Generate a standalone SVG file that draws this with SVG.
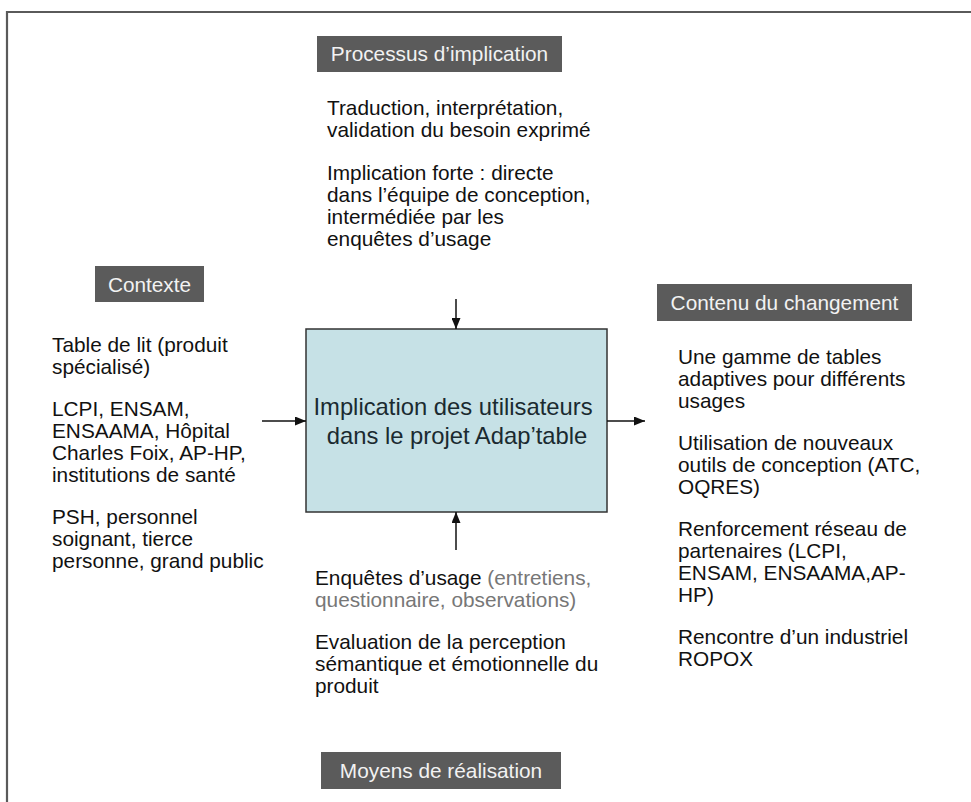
<svg xmlns="http://www.w3.org/2000/svg" width="971" height="802" viewBox="0 0 971 802">
<style>
.hdr{fill:#5b5b5b}
.ht{font-family:"Liberation Sans",Arial,sans-serif;font-size:20.8px;fill:#f2f2f2;text-anchor:middle}
.bt{font-family:"Liberation Sans",Arial,sans-serif;font-size:20.8px;fill:#111}
.gr{fill:#777}
.mt{font-family:"Liberation Sans",Arial,sans-serif;font-size:23.8px;fill:#1a2a30;text-anchor:middle}
.cn{stroke:#111;stroke-width:1.5;fill:none}
</style>
<defs>
<marker id="ah" viewBox="0 0 10 10" refX="10" refY="5" markerWidth="11" markerHeight="9" orient="auto" markerUnits="userSpaceOnUse" preserveAspectRatio="none">
<path d="M0,0 L10,5 L0,10 z" fill="#111"/>
</marker>
</defs>
<rect width="971" height="802" fill="#fff"/>
<path d="M7,802 V12 H971" fill="none" stroke="#5a5a5a" stroke-width="2.2"/>

<g id="main">
<rect x="306" y="329" width="301" height="183" fill="#c6e1e6" stroke="#333" stroke-width="1.5"/>
<text class="mt" x="453" y="415">Implication des utilisateurs</text>
<text class="mt" x="457" y="444">dans le projet Adap’table</text>
</g>

<g id="processus">
<rect class="hdr" x="317" y="36" width="245" height="36"/>
<text class="ht" x="439.5" y="61">Processus d’implication</text>
<text class="bt" x="327" y="115">Traduction, interprétation,</text>
<text class="bt" x="327" y="137">validation du besoin exprimé</text>
<text class="bt" x="327" y="180">Implication forte : directe</text>
<text class="bt" x="327" y="202">dans l’équipe de conception,</text>
<text class="bt" x="327" y="224">intermédiée par les</text>
<text class="bt" x="327" y="246">enquêtes d’usage</text>
</g>

<g id="contexte">
<rect class="hdr" x="95" y="266" width="109" height="36"/>
<text class="ht" x="149.5" y="292">Contexte</text>
<text class="bt" x="52" y="352">Table de lit (produit</text>
<text class="bt" x="52" y="374">spécialisé)</text>
<text class="bt" x="52" y="416">LCPI, ENSAM,</text>
<text class="bt" x="52" y="438">ENSAAMA, Hôpital</text>
<text class="bt" x="52" y="460">Charles Foix, AP-HP,</text>
<text class="bt" x="52" y="482">institutions de santé</text>
<text class="bt" x="52" y="524">PSH, personnel</text>
<text class="bt" x="52" y="546">soignant, tierce</text>
<text class="bt" x="52" y="568">personne, grand public</text>
</g>

<g id="contenu">
<rect class="hdr" x="657" y="284" width="255" height="37"/>
<text class="ht" x="784.5" y="310">Contenu du changement</text>
<text class="bt" x="678" y="364">Une gamme de tables</text>
<text class="bt" x="678" y="386">adaptives pour différents</text>
<text class="bt" x="678" y="408">usages</text>
<text class="bt" x="678" y="450">Utilisation de nouveaux</text>
<text class="bt" x="678" y="472">outils de conception (ATC,</text>
<text class="bt" x="678" y="494">OQRES)</text>
<text class="bt" x="678" y="536">Renforcement réseau de</text>
<text class="bt" x="678" y="558">partenaires (LCPI,</text>
<text class="bt" x="678" y="580">ENSAM, ENSAAMA,AP-</text>
<text class="bt" x="678" y="602">HP)</text>
<text class="bt" x="678" y="644">Rencontre d’un industriel</text>
<text class="bt" x="678" y="666">ROPOX</text>
</g>

<g id="moyens">
<rect class="hdr" x="321" y="752" width="240" height="37"/>
<text class="ht" x="441" y="778">Moyens de réalisation</text>
<text class="bt" x="315" y="585">Enquêtes d’usage <tspan class="gr">(entretiens,</tspan></text>
<text class="bt gr" x="315" y="607">questionnaire, observations)</text>
<text class="bt" x="315" y="649">Evaluation de la perception</text>
<text class="bt" x="315" y="671">sémantique et émotionnelle du</text>
<text class="bt" x="315" y="693">produit</text>
</g>

<g id="connectors">
<line class="cn" x1="456" y1="299" x2="456" y2="329" marker-end="url(#ah)"/>
<line class="cn" x1="456" y1="550" x2="456" y2="512" marker-end="url(#ah)"/>
<line class="cn" x1="262" y1="421" x2="306" y2="421" marker-end="url(#ah)"/>
<line class="cn" x1="607" y1="421" x2="645" y2="421" marker-end="url(#ah)"/>
</g>
</svg>
